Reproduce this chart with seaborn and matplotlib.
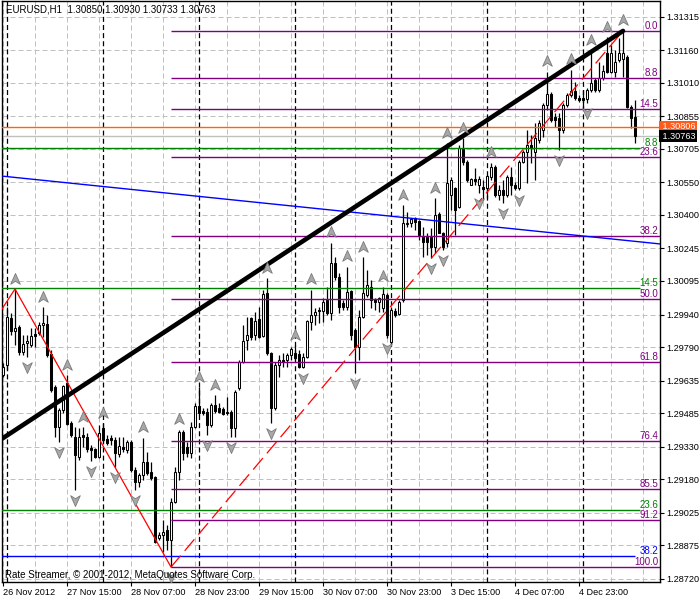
import numpy as np
import matplotlib
matplotlib.use("Agg")
import matplotlib.pyplot as plt
from matplotlib.path import Path
from matplotlib.transforms import offset_copy, blended_transform_factory
import seaborn as sns

# --- EURUSD H1 candles, bar 0 = 26 Nov 2012 23:00 ---
opens = [1.29661, 1.29707, 1.29924, 1.29864, 1.29883, 1.29767, 1.29809, 1.29800, 1.29851, 1.29855,
         1.29892, 1.29897, 1.29758, 1.29606, 1.29421, 1.29500, 1.29624, 1.29440, 1.29375, 1.29283,
         1.29384, 1.29375, 1.29324, 1.29320, 1.29283, 1.29417, 1.29366, 1.29371, 1.29361, 1.29297,
         1.29329, 1.29315, 1.29352, 1.29223, 1.29168, 1.29200, 1.29260, 1.29214, 1.29191, 1.28909,
         1.28923, 1.28946, 1.28900, 1.29075, 1.29214, 1.29398, 1.29329, 1.29301, 1.29421, 1.29518,
         1.29495, 1.29491, 1.29431, 1.29523, 1.29509, 1.29504, 1.29491, 1.29491, 1.29417, 1.29601,
         1.29721, 1.29823, 1.29924, 1.29846, 1.29920, 1.29841, 1.30040, 1.29763, 1.29509, 1.29707,
         1.29731, 1.29731, 1.29754, 1.29763, 1.29758, 1.29698, 1.29744, 1.29906, 1.29938, 1.29961,
         1.29957, 1.30008, 1.29947, 1.30178, 1.30114, 1.29994, 1.29975, 1.30049, 1.29869, 1.29791,
         1.29929, 1.30031, 1.30068, 1.30012, 1.29998, 1.29971, 1.30031, 1.29814, 1.29957, 1.29943,
         1.30008, 1.30358, 1.30363, 1.30386, 1.30372, 1.30303, 1.30303, 1.30298, 1.30252, 1.30404,
         1.30317, 1.30271, 1.30492, 1.30524, 1.30437, 1.30709, 1.30644, 1.30538, 1.30566, 1.30538,
         1.30529, 1.30524, 1.30575, 1.30621, 1.30492, 1.30515, 1.30492, 1.30575, 1.30538, 1.30524,
         1.30644, 1.30690, 1.30723, 1.30690, 1.30746, 1.30792, 1.30907, 1.30958, 1.30852, 1.30847,
         1.30792, 1.30907, 1.30954, 1.30972, 1.30940, 1.30940, 1.30935, 1.30977, 1.31023, 1.30977,
         1.31032, 1.31147, 1.31060, 1.31060, 1.31115, 1.31120, 1.31129, 1.30898, 1.30850]
highs = [1.29717, 1.29975, 1.29947, 1.30058, 1.29892, 1.29846, 1.29846, 1.29878, 1.29878, 1.29906,
         1.29975, 1.29938, 1.29777, 1.29615, 1.29509, 1.29615, 1.29661, 1.29449, 1.29421, 1.29417,
         1.29421, 1.29394, 1.29338, 1.29324, 1.29431, 1.29440, 1.29384, 1.29384, 1.29375, 1.29375,
         1.29375, 1.29361, 1.29361, 1.29237, 1.29209, 1.29371, 1.29306, 1.29260, 1.29195, 1.28937,
         1.28992, 1.28969, 1.29094, 1.29237, 1.29408, 1.29408, 1.29352, 1.29445, 1.29532, 1.29606,
         1.29509, 1.29509, 1.29532, 1.29569, 1.29532, 1.29514, 1.29560, 1.29500, 1.29592, 1.29731,
         1.29892, 1.29929, 1.29929, 1.29952, 1.29975, 1.30054, 1.30109, 1.29767, 1.29721, 1.29754,
         1.29763, 1.29763, 1.29791, 1.29800, 1.29777, 1.29763, 1.29915, 1.30054, 1.29971, 1.29975,
         1.30017, 1.30068, 1.30271, 1.30206, 1.30132, 1.30008, 1.30160, 1.30054, 1.29878, 1.29961,
         1.30206, 1.30146, 1.30100, 1.30017, 1.30021, 1.30068, 1.30040, 1.29975, 1.29971, 1.30008,
         1.30446, 1.30414, 1.30386, 1.30391, 1.30377, 1.30344, 1.30317, 1.30340, 1.30478, 1.30414,
         1.30321, 1.30732, 1.30575, 1.30529, 1.30723, 1.30755, 1.30654, 1.30571, 1.30617, 1.30580,
         1.30561, 1.30584, 1.30640, 1.30631, 1.30538, 1.30561, 1.30584, 1.30621, 1.30552, 1.30654,
         1.30700, 1.30792, 1.30769, 1.30824, 1.30838, 1.30917, 1.31060, 1.30967, 1.30870, 1.30870,
         1.30917, 1.30963, 1.31069, 1.31014, 1.30954, 1.30977, 1.30986, 1.31157, 1.31032, 1.31106,
         1.31092, 1.31221, 1.31184, 1.31161, 1.31217, 1.31249, 1.31138, 1.30907, 1.30930]
lows = [1.29652, 1.29684, 1.29846, 1.29800, 1.29754, 1.29754, 1.29744, 1.29791, 1.29791, 1.29846,
        1.29837, 1.29744, 1.29583, 1.29375, 1.29352, 1.29486, 1.29431, 1.29375, 1.29131, 1.29269,
        1.29329, 1.29306, 1.29265, 1.29278, 1.29278, 1.29352, 1.29338, 1.29338, 1.29237, 1.29283,
        1.29306, 1.29301, 1.29214, 1.29131, 1.29145, 1.29177, 1.29200, 1.29177, 1.28886, 1.28900,
        1.28845, 1.28854, 1.28775, 1.29071, 1.29177, 1.29269, 1.29283, 1.29278, 1.29417, 1.29477,
        1.29477, 1.29384, 1.29421, 1.29486, 1.29486, 1.29477, 1.29477, 1.29375, 1.29375, 1.29592,
        1.29717, 1.29777, 1.29823, 1.29823, 1.29832, 1.29837, 1.29754, 1.29440, 1.29500, 1.29652,
        1.29698, 1.29698, 1.29731, 1.29731, 1.29694, 1.29694, 1.29740, 1.29869, 1.29892, 1.29901,
        1.29906, 1.29938, 1.29915, 1.30100, 1.29947, 1.29961, 1.29961, 1.29823, 1.29671, 1.29731,
        1.29924, 1.30021, 1.29971, 1.29961, 1.29952, 1.29952, 1.29832, 1.29809, 1.29929, 1.29938,
        1.29998, 1.30344, 1.30344, 1.30331, 1.30284, 1.30206, 1.30215, 1.30201, 1.30224, 1.30317,
        1.30238, 1.30252, 1.30423, 1.30308, 1.30432, 1.30631, 1.30552, 1.30538, 1.30538, 1.30501,
        1.30469, 1.30478, 1.30561, 1.30483, 1.30469, 1.30455, 1.30483, 1.30492, 1.30515, 1.30515,
        1.30640, 1.30548, 1.30640, 1.30561, 1.30732, 1.30760, 1.30884, 1.30829, 1.30806, 1.30700,
        1.30778, 1.30898, 1.30944, 1.30930, 1.30921, 1.30894, 1.30917, 1.30967, 1.30967, 1.30967,
        1.31023, 1.31055, 1.31055, 1.31037, 1.31106, 1.31037, 1.30894, 1.30801, 1.30733]
closes = [1.29698, 1.29929, 1.29864, 1.29878, 1.29767, 1.29804, 1.29818, 1.29841, 1.29841, 1.29892,
          1.29901, 1.29754, 1.29592, 1.29421, 1.29500, 1.29611, 1.29435, 1.29384, 1.29292, 1.29375,
          1.29375, 1.29320, 1.29315, 1.29283, 1.29394, 1.29361, 1.29348, 1.29361, 1.29301, 1.29334,
          1.29320, 1.29352, 1.29223, 1.29168, 1.29200, 1.29260, 1.29209, 1.29186, 1.28891, 1.28923,
          1.28937, 1.28900, 1.29075, 1.29214, 1.29398, 1.29301, 1.29301, 1.29421, 1.29518, 1.29486,
          1.29486, 1.29431, 1.29523, 1.29495, 1.29491, 1.29481, 1.29486, 1.29417, 1.29583, 1.29721,
          1.29818, 1.29846, 1.29837, 1.29911, 1.29837, 1.30035, 1.29763, 1.29509, 1.29707, 1.29731,
          1.29721, 1.29754, 1.29781, 1.29740, 1.29698, 1.29744, 1.29911, 1.29938, 1.29952, 1.29957,
          1.29998, 1.29947, 1.30178, 1.30114, 1.29975, 1.29975, 1.30044, 1.29846, 1.29791, 1.29929,
          1.30040, 1.30077, 1.30008, 1.29998, 1.30017, 1.30035, 1.29846, 1.29961, 1.29938, 1.29998,
          1.30363, 1.30363, 1.30381, 1.30368, 1.30308, 1.30275, 1.30275, 1.30252, 1.30400, 1.30317,
          1.30252, 1.30548, 1.30561, 1.30423, 1.30709, 1.30644, 1.30561, 1.30566, 1.30557, 1.30566,
          1.30520, 1.30580, 1.30621, 1.30492, 1.30515, 1.30492, 1.30575, 1.30538, 1.30524, 1.30644,
          1.30690, 1.30723, 1.30709, 1.30755, 1.30824, 1.30907, 1.30958, 1.30838, 1.30838, 1.30792,
          1.30907, 1.30954, 1.30972, 1.30940, 1.30930, 1.30930, 1.30977, 1.31009, 1.30977, 1.31032,
          1.31064, 1.31060, 1.31147, 1.31106, 1.31147, 1.31147, 1.30898, 1.30847, 1.30763]

# Bill Williams fractals (bar index)
fractal_up_bars = [3, 10, 16, 20, 25, 35, 44, 49, 53, 66, 73, 77, 82, 86, 90, 95, 100, 108,
                   111, 115, 122, 136, 142, 147, 151, 155]
fractal_down_bars = [6, 14, 18, 22, 28, 33, 42, 51, 57, 67, 75, 88, 96, 107, 110, 119, 125,
                     129, 139, 146]

# time axis
date_bars = [0, 16, 32, 48, 64, 80, 96, 112, 128, 144]
date_labels = ["26 Nov 2012", "27 Nov 15:00", "28 Nov 07:00", "28 Nov 23:00", "29 Nov 15:00",
               "30 Nov 07:00", "30 Nov 23:00", "3 Dec 15:00", "4 Dec 07:00", "4 Dec 23:00"]
day_start_bars = [1, 25, 49, 73, 97, 121, 145]
price_ticks = [1.31315, 1.31160, 1.31010, 1.30855, 1.30705, 1.30550, 1.30400, 1.30245, 1.30095,
               1.29940, 1.29790, 1.29635, 1.29485, 1.29330, 1.29180, 1.29025, 1.28875, 1.28720]

# Fibonacci retracement (purple) from the low bar to the high bar
fib_low_bar, fib_low = 42, 1.28775
fib_high_bar, fib_high = 155, 1.31249
fib_levels = [0.0, 8.8, 14.5, 23.6, 38.2, 50.0, 61.8, 76.4, 85.5, 91.2, 100.0]

# other objects
green_prices = [1.30709, 1.30063, 1.29038]
green_labels = ["8.8", "14.5", "23.6"]
blue_prices = [1.28826]
blue_labels = ["38.2"]
trend_bars = [-0.75, 155]
trend_prices = [1.29361, 1.31249]
blue_trend_bars = [-0.75, 164.25]
blue_trend_prices = [1.30580, 1.30266]
zigzag_bars = [-0.75, 3, 42]
zigzag_prices = [1.29952, 1.30058, 1.28775]
ask_price = 1.30806
bid_price = 1.30763

sns.set_theme(style="white")
plt.rcParams["font.family"] = ["Liberation Sans", "DejaVu Sans"]
FS = 6.6

o, h, l, c = map(np.array, (opens, highs, lows, closes))
bars = np.arange(len(o))

fig = plt.figure(figsize=(7, 6), dpi=100)
fig.patch.set_facecolor("white")
ax = fig.add_axes([2 / 700, 18 / 600, 658 / 700, 581 / 600])
ax.set_facecolor("white")

# grid + day separators
for p in price_ticks:
    ax.axhline(p, color="#c0c0c0", lw=0.72, ls=(0, (5, 3)), zorder=0)
for b in range(0, 165, 8):
    ax.axvline(b, color="#c0c0c0", lw=0.72, ls=(0, (5, 3)), zorder=0)
for b in day_start_bars:
    ax.axvline(b, color="black", lw=0.9, ls=(0, (4, 2.5)), zorder=0.5)

# candles
ax.vlines(bars, l, h, color="black", lw=0.9, zorder=2)
bull = c >= o
bottom = np.minimum(o, c)
height = np.abs(c - o)
ax.bar(bars[bull], height[bull], bottom=bottom[bull], width=0.55,
       facecolor="white", edgecolor="black", linewidth=0.75, zorder=3)
ax.bar(bars[~bull], height[~bull], bottom=bottom[~bull], width=0.55,
       facecolor="black", edgecolor="black", linewidth=0.75, zorder=3)

# horizontal objects
xr = 164.25
ax.axhline(bid_price, color="#c0c0c0", lw=1, zorder=1)
ax.axhline(ask_price, color="#ff6600", lw=1, zorder=4)
for p, lab in zip(green_prices, green_labels):
    ax.hlines(p, -1, 159.3, color="#008000", lw=1, zorder=4)
    ax.text(163.8, p, lab, ha="right", va="bottom", color="#008000", fontsize=FS + 0.4, zorder=6)
for p, lab in zip(blue_prices, blue_labels):
    ax.hlines(p, -1, 158.0, color="#0000ff", lw=1, zorder=4)
    ax.text(163.8, p, lab, ha="right", va="bottom", color="#0000ff", fontsize=FS + 0.4, zorder=6)
for lv in fib_levels:
    p = fib_high - lv / 100 * (fib_high - fib_low)
    ax.hlines(p, fib_low_bar, xr, color="#800080", lw=1, zorder=4)
    ax.text(163.8, p, f"{lv:.1f}", ha="right", va="bottom", color="#800080", fontsize=FS + 0.4, zorder=6)

# trend lines and zigzag
sns.lineplot(x=blue_trend_bars, y=blue_trend_prices, ax=ax, color="#0000ff", lw=1, sort=False, zorder=4)
sns.lineplot(x=zigzag_bars, y=zigzag_prices, ax=ax, color="#ff0000", lw=0.9, sort=False, zorder=4)
ax.plot([fib_low_bar, fib_high_bar], [fib_low, fib_high], color="#ff0000", lw=0.9,
        ls=(0, (12, 5)), zorder=4)
sns.lineplot(x=trend_bars, y=trend_prices, ax=ax, color="black", lw=3.3, sort=False, zorder=5)

# fractal arrows
up_path = Path([(0, 1), (0.8, -0.8), (0, -0.3), (-0.8, -0.8), (0, 1)],
               [Path.MOVETO, Path.LINETO, Path.LINETO, Path.LINETO, Path.CLOSEPOLY])
down_path = Path([(0, -1), (0.8, 0.8), (0, 0.3), (-0.8, 0.8), (0, -1)],
                 [Path.MOVETO, Path.LINETO, Path.LINETO, Path.LINETO, Path.CLOSEPOLY])
fu = np.array(fractal_up_bars)
fd = np.array(fractal_down_bars)
ax.scatter(fu, h[fu], marker=up_path, s=75, facecolor="#a8a8a8", edgecolor="#7a7a7a",
           linewidth=0.6, zorder=6, transform=offset_copy(ax.transData, fig=fig, y=7.5, units="points"))
ax.scatter(fd, l[fd], marker=down_path, s=75, facecolor="#a8a8a8", edgecolor="#7a7a7a",
           linewidth=0.6, zorder=6, transform=offset_copy(ax.transData, fig=fig, y=-7.5, units="points"))

# limits and axes
ax.set_xlim(-0.25, xr)
ax.set_ylim(1.28706, 1.31387)
ax.set_xlabel("")
ax.set_ylabel("")
ax.yaxis.tick_right()
ax.set_yticks(price_ticks)
ax.set_yticklabels([f"{p:.5f}" for p in price_ticks])
ax.set_xticks(date_bars)
ax.set_xticklabels(date_labels)
for lab in ax.get_xticklabels():
    lab.set_ha("left")
ax.tick_params(axis="both", which="both", direction="out", length=3, width=0.8,
               color="black", labelsize=FS, labelcolor="black", pad=1.5)
ax.tick_params(axis="x", bottom=True, top=False)
ax.tick_params(axis="y", right=True, left=False)
for s in ax.spines.values():
    s.set_color("black")
    s.set_linewidth(1)
    s.set_visible(True)

# ask / bid price boxes on the price scale
tr = blended_transform_factory(ax.transAxes, ax.transData)
ax.text(1.0, ask_price, " " + f"{ask_price:.5f}", transform=tr, ha="left", va="center",
        color="white", fontsize=FS, zorder=10, clip_on=False,
        bbox=dict(boxstyle="square,pad=0.15", fc="#ff5a1a", ec="none"))
ax.text(1.0, bid_price, " " + f"{bid_price:.5f}", transform=tr, ha="left", va="center",
        color="white", fontsize=FS, zorder=10, clip_on=False,
        bbox=dict(boxstyle="square,pad=0.15", fc="black", ec="none"))

# header and footer texts
ax.text(0.006, 0.994, f"EURUSD,H1  {opens[-1]:.5f} {highs[-1]:.5f} {lows[-1]:.5f} {closes[-1]:.5f}",
        transform=ax.transAxes, ha="left", va="top", fontsize=FS + 0.4, color="black", zorder=10)
ax.text(0.005, 0.003, "Rate Streamer, \u00a9 2001-2012, MetaQuotes Software Corp.",
        transform=ax.transAxes, ha="left", va="bottom", fontsize=FS + 0.4, color="black", zorder=10)

fig.savefig("out.png", dpi=100)
